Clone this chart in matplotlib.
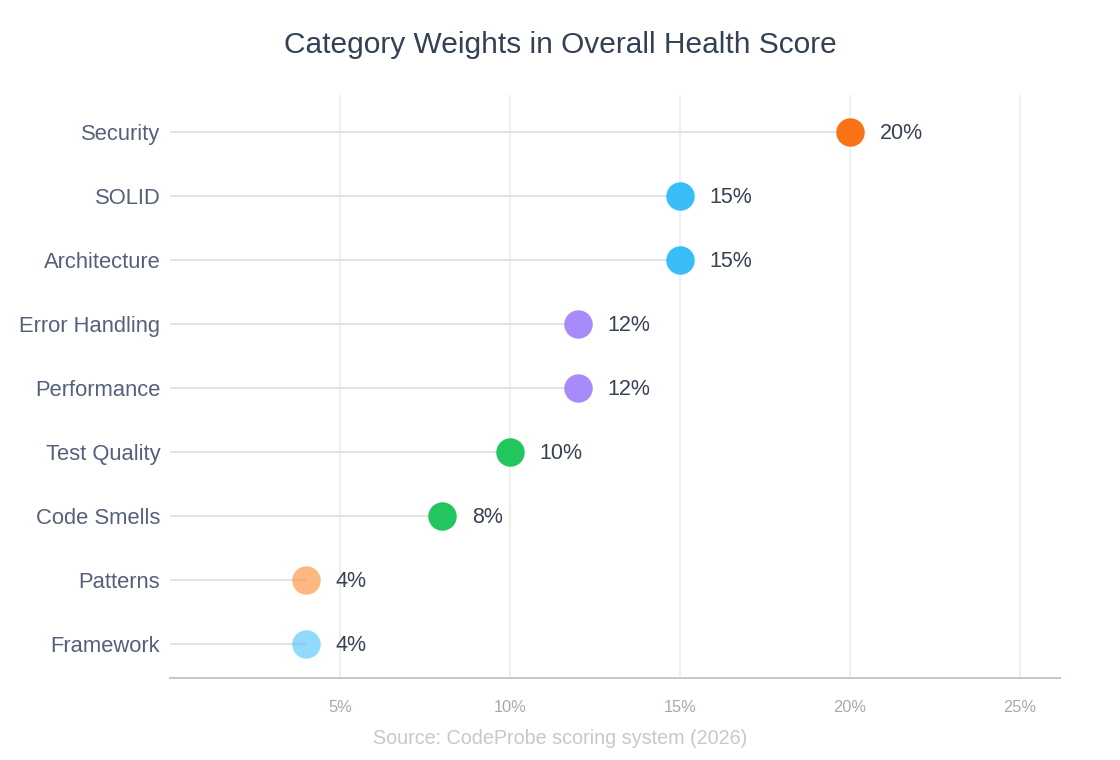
import matplotlib
matplotlib.use('Agg')
import matplotlib.pyplot as plt
from matplotlib.ticker import FixedLocator, FuncFormatter

plt.rcParams['font.family'] = ['Liberation Sans', 'DejaVu Sans']

categories = ['Security', 'SOLID', 'Architecture', 'Error Handling', 'Performance',
              'Test Quality', 'Code Smells', 'Patterns', 'Framework']
weights = [20, 15, 15, 12, 12, 10, 8, 4, 4]
colors = ['#f97316', '#38bdf8', '#38bdf8', '#a78bfa', '#a78bfa',
          '#22c55e', '#22c55e', '#fb923c', '#38bdf8']
alphas = [1, 1, 1, 1, 1, 1, 1, 0.65, 0.55]
x_ticks = [5, 10, 15, 20, 25]

fig = plt.figure(figsize=(11.2, 7.6), dpi=100)
ax = fig.add_axes([170 / 1120, 1 - 678 / 760, 890 / 1120, 583 / 760])

y = list(range(len(categories)))
for yi, w, c, a in zip(y, weights, colors, alphas):
    # stem from zero to the dot
    ax.plot([0, w], [yi, yi], color='#dfe2e7', lw=1.4, zorder=2, solid_capstyle='butt')
    ax.plot(w, yi, 'o', ms=20.5, color=c, alpha=a, mec='none', zorder=3)
    ax.annotate(f'{w}%', (w, yi), xytext=(21.5, -1.2), textcoords='offset points',
                va='center', ha='left', fontsize=15.5, color='#374151')

ax.set_xlim(0, 26.18)
ax.set_ylim(len(categories) - 0.47, -0.58)
ax.set_yticks(y)
ax.set_yticklabels(categories, fontsize=15.8, color='#55607a')
ax.xaxis.set_major_locator(FixedLocator(x_ticks))
ax.xaxis.set_major_formatter(FuncFormatter(lambda v, p: f'{v:.0f}%'))
ax.tick_params(axis='x', length=0, pad=16, labelsize=11.8, labelcolor='#a3a9b4')
ax.tick_params(axis='y', length=0, pad=7)
ax.grid(axis='x', color='#ececee', lw=1.2, zorder=0)
for s in ['top', 'right', 'left']:
    ax.spines[s].set_visible(False)
ax.spines['bottom'].set_color('#c3c7ce')
ax.spines['bottom'].set_linewidth(1.4)

fig.text(0.5, 1 - 45 / 760, 'Category Weights in Overall Health Score', ha='center', va='center',
         fontsize=21.5, color='#334155')
fig.text(0.5, 1 - 738 / 760, 'Source: CodeProbe scoring system (2026)', ha='center', va='center',
         fontsize=14.2, color='#c4c8d0')

fig.savefig('out.png', dpi=100)
